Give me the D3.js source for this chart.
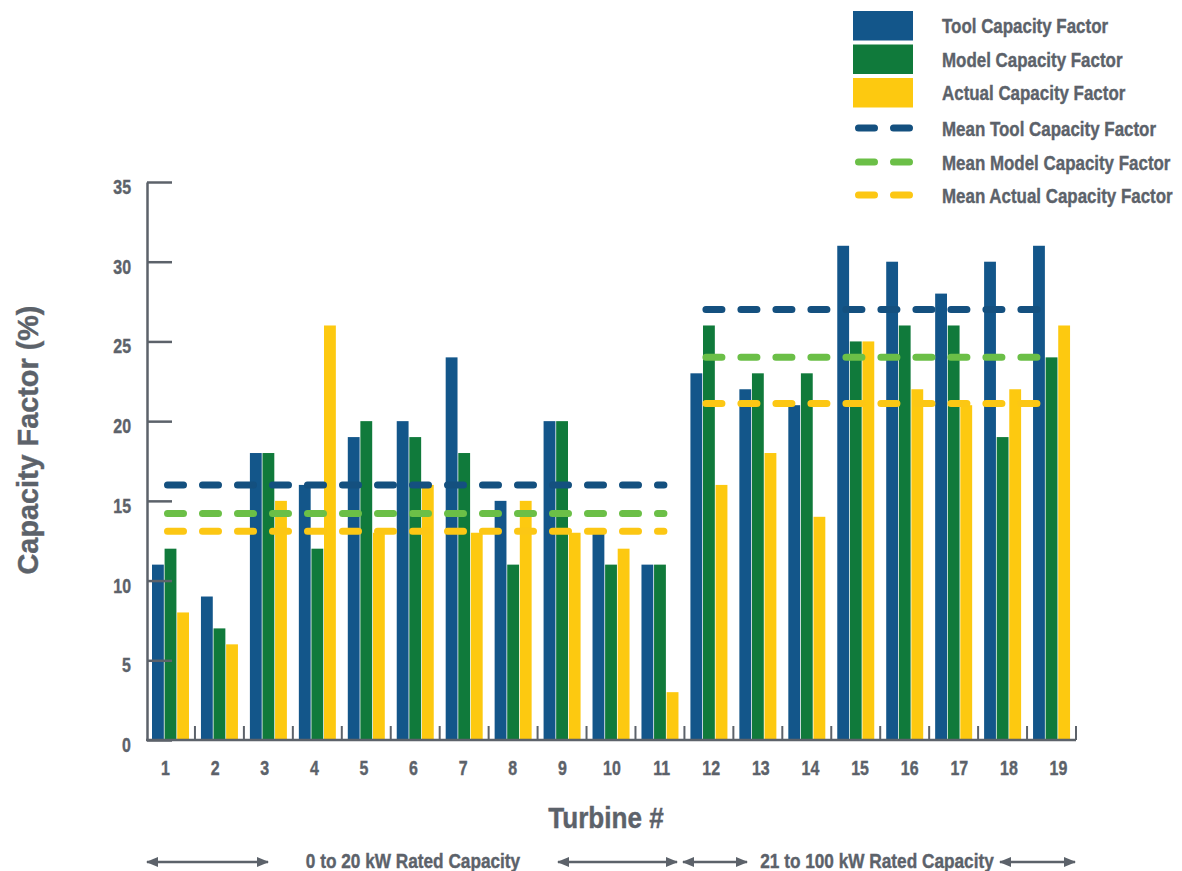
<!DOCTYPE html>
<html>
<head>
<meta charset="utf-8">
<script src="https://cdn.jsdelivr.net/npm/d3@7"></script>
<style>
  html, body { margin: 0; padding: 0; background: #fff; }
  svg { display: block; }
  text { font-family: "Liberation Sans", Arial, sans-serif; font-weight: bold; fill: #5c626a; stroke: #5c626a; stroke-width: 0.4px; }
</style>
</head>
<body>
<svg id="chart" width="1182" height="871"></svg>
<script>
// ---------- data ----------
const turbines = ["1","2","3","4","5","6","7","8","9","10","11","12","13","14","15","16","17","18","19"];
const toolCF   = [11, 9, 18, 16, 19, 20, 24, 15, 20, 13, 11, 23, 22, 21, 31, 30, 28, 30, 31];
const modelCF  = [12, 7, 18, 12, 20, 19, 18, 11, 20, 11, 11, 26, 23, 23, 25, 26, 26, 19, 24];
const actualCF = [ 8, 6, 15, 26, 13, 16, 13, 15, 13, 12,  3, 16, 18, 14, 25, 22, 21, 22, 26];
const seriesNames = ["Tool Capacity Factor", "Model Capacity Factor", "Actual Capacity Factor"];
const meanNames = ["Mean Tool Capacity Factor", "Mean Model Capacity Factor", "Mean Actual Capacity Factor"];
// group ranges (first turbine, last turbine) and their means [tool, model, actual]
const groupRanges = [["1","11"], ["12","19"]];
const groupMeans = [[16, 14.2, 13.1], [27, 24, 21.1]];
const groupLabels = ["0 to 20 kW Rated Capacity", "21 to 100 kW Rated Capacity"];
const yTicks = [0, 5, 10, 15, 20, 25, 30, 35];

// ---------- styles ----------
const barColors = ["#13568a", "#107a3b", "#fdc910"];
const meanColors = ["#14507f", "#6bbf47", "#fcc714"];
const axisColor = "#5c626a";

const svg = d3.select("#chart");

// condense text horizontally (the original uses a bold condensed face)
function condense(sel, factor) {
  sel.each(function () {
    const w = this.getComputedTextLength();
    d3.select(this).attr("textLength", w * factor).attr("lengthAdjust", "spacingAndGlyphs");
  });
}

const x0 = d3.scaleBand().domain(turbines).range([146, 1076]).paddingInner(0).paddingOuter(0);
const x1 = d3.scaleBand().domain([0, 1, 2]).range([6, 43]).paddingInner(0.06);
const xLab = d3.scalePoint().domain(turbines).range([165, 1058]);
const y = d3.scaleLinear().domain([0, 35]).range([740, 182]);

// ---------- bars ----------
const rows = turbines.map((t, i) => ({ t, vals: [toolCF[i], modelCF[i], actualCF[i]] }));
const g = svg.append("g");
g.selectAll("g.grp").data(rows).join("g")
  .attr("class", "grp")
  .attr("transform", d => `translate(${x0(d.t)},0)`)
  .selectAll("rect").data(d => d.vals.map((v, k) => ({ v, k }))).join("rect")
  .attr("x", d => x1(d.k))
  .attr("width", x1.bandwidth())
  .attr("y", d => y(d.v))
  .attr("height", d => y(0) - y(d.v))
  .attr("fill", d => barColors[d.k]);

// ---------- mean dashed lines ----------
groupRanges.forEach((r, gi) => {
  const xs = x0(r[0]) + 18 + 3.5;
  const xe = x0(r[1]) + x0.bandwidth() - 17 - 3.5;
  groupMeans[gi].forEach((m, k) => {
    svg.append("line")
      .attr("x1", xs).attr("x2", xe)
      .attr("y1", y(m)).attr("y2", y(m))
      .attr("stroke", meanColors[k])
      .attr("stroke-width", 7)
      .attr("stroke-linecap", "round")
      .attr("stroke-dasharray", "16 19");
  });
});

// ---------- y axis ----------
const yAxis = d3.axisLeft(y).tickValues(yTicks).tickSizeInner(-25).tickSizeOuter(0).tickPadding(16);
const ya = svg.append("g").attr("transform", "translate(147,0)").call(yAxis);
ya.select(".domain").attr("stroke", axisColor).attr("stroke-width", 2.5);
ya.selectAll(".tick line").attr("stroke", axisColor).attr("stroke-width", 2.5);
ya.selectAll(".tick text")
  .attr("font-size", 21).attr("dy", "0.55em").attr("fill", "#5c626a")
  .style("font-family", '"Liberation Sans", Arial, sans-serif')
  .style("font-weight", "bold")
  .call(condense, 0.76);

// ---------- x axis ----------
svg.append("line").attr("x1", 146).attr("x2", x0.range()[1]).attr("y1", y(0)).attr("y2", y(0))
  .attr("stroke", axisColor).attr("stroke-width", 2.5);
svg.selectAll("line.xtick").data(turbines).join("line")
  .attr("class", "xtick")
  .attr("x1", d => x0(d) + x0.bandwidth()).attr("x2", d => x0(d) + x0.bandwidth())
  .attr("y1", y(0)).attr("y2", y(0) - 14)
  .attr("stroke", axisColor).attr("stroke-width", 2);

const xAxis = d3.axisBottom(xLab).tickSize(0).tickPadding(0);
const xa = svg.append("g").attr("transform", "translate(0,760)").call(xAxis);
xa.select(".domain").remove();
xa.selectAll(".tick text")
  .attr("font-size", 21).attr("dy", "0.71em").attr("fill", "#5c626a")
  .style("font-family", '"Liberation Sans", Arial, sans-serif')
  .style("font-weight", "bold")
  .call(condense, 0.76);

// ---------- axis titles ----------
svg.append("text").attr("x", 606).attr("y", 828).attr("text-anchor", "middle")
  .attr("font-size", 30).text("Turbine #").call(condense, 0.87);
svg.append("text").attr("transform", "translate(38,440) rotate(-90)").attr("text-anchor", "middle")
  .attr("font-size", 30).text("Capacity Factor (%)").call(condense, 0.96);

// ---------- bottom range arrows ----------
const defs = svg.append("defs");
defs.append("marker").attr("id", "ah").attr("viewBox", "0 0 12 10")
  .attr("refX", 11).attr("refY", 5).attr("markerWidth", 12).attr("markerHeight", 10)
  .attr("markerUnits", "userSpaceOnUse").attr("orient", "auto-start-reverse")
  .append("path").attr("d", "M0,0 L12,5 L0,10 Z").attr("fill", axisColor);
const arrows = [[147, 268], [558, 677], [683, 747], [1000, 1075]];
svg.selectAll("line.arr").data(arrows).join("line")
  .attr("class", "arr")
  .attr("x1", d => d[0]).attr("x2", d => d[1]).attr("y1", 862).attr("y2", 862)
  .attr("stroke", axisColor).attr("stroke-width", 2.5)
  .attr("marker-start", "url(#ah)").attr("marker-end", "url(#ah)");
svg.selectAll("text.grplab").data(groupLabels).join("text")
  .attr("class", "grplab")
  .attr("x", (d, i) => [413, 877][i]).attr("y", 868).attr("text-anchor", "middle")
  .attr("font-size", 21).text(d => d)
  .call(condense, 0.82);

// ---------- legend ----------
const leg = svg.append("g");
const rectY = [11, 44.5, 78];
const legScale = 0.806;
seriesNames.forEach((n, k) => {
  leg.append("rect").attr("x", 853).attr("y", rectY[k]).attr("width", 60).attr("height", 29.5)
    .attr("fill", barColors[k]);
  leg.append("text").attr("transform", `translate(942,${rectY[k] + 22}) scale(${legScale},1)`)
    .attr("font-size", 21).text(n);
});
const dashY = [128, 162, 195];
meanNames.forEach((n, k) => {
  leg.append("line").attr("x1", 858.5).attr("x2", 909.5).attr("y1", dashY[k]).attr("y2", dashY[k])
    .attr("stroke", meanColors[k]).attr("stroke-width", 7).attr("stroke-linecap", "round")
    .attr("stroke-dasharray", "16 19");
  leg.append("text").attr("transform", `translate(942,${dashY[k] + 7.5}) scale(${legScale},1)`)
    .attr("font-size", 21).text(n);
});
</script>
</body>
</html>
